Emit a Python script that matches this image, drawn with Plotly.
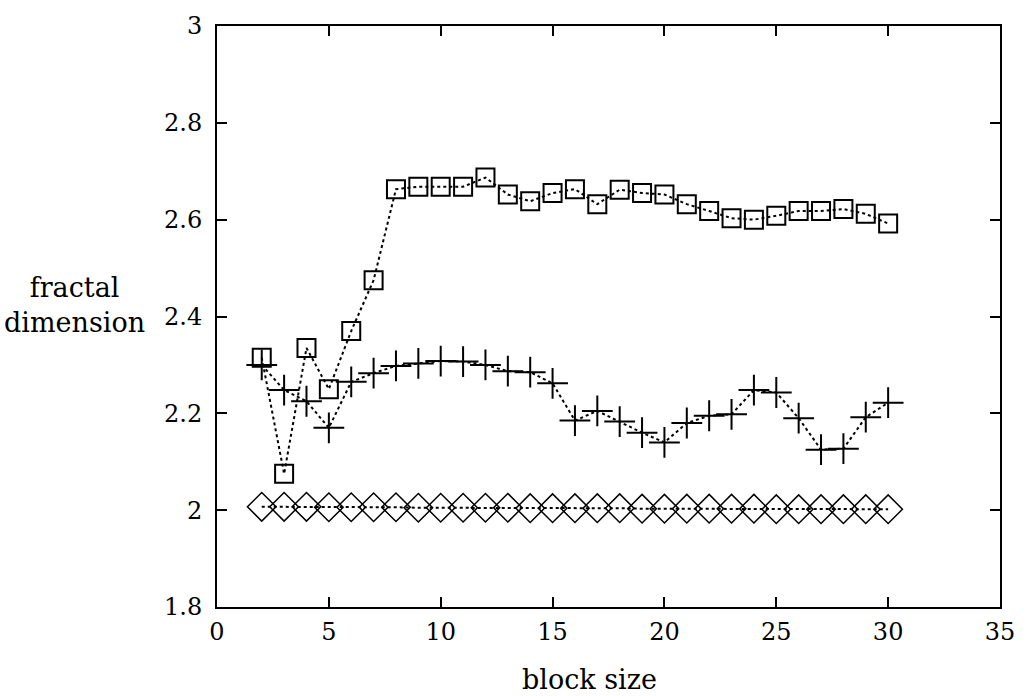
import plotly.graph_objects as go

block_size = list(range(2, 31))
squares = [2.315, 2.075, 2.335, 2.250, 2.370, 2.475, 2.663, 2.668, 2.668, 2.668,
           2.687, 2.652, 2.638, 2.655, 2.663, 2.632, 2.662, 2.655, 2.652, 2.632,
           2.618, 2.603, 2.600, 2.608, 2.618, 2.618, 2.622, 2.612, 2.592]
plus = [2.300, 2.248, 2.225, 2.170, 2.265, 2.283, 2.298, 2.303, 2.308, 2.307,
        2.300, 2.287, 2.285, 2.262, 2.185, 2.205, 2.183, 2.160, 2.140, 2.180,
        2.195, 2.198, 2.248, 2.243, 2.190, 2.125, 2.127, 2.192, 2.222]
diamonds = [2.007, 2.007, 2.007, 2.006, 2.006, 2.006, 2.006, 2.005, 2.005, 2.005,
            2.005, 2.005, 2.004, 2.004, 2.004, 2.004, 2.004, 2.003, 2.003, 2.003,
            2.003, 2.003, 2.003, 2.002, 2.002, 2.002, 2.002, 2.002, 2.002]
x_ticks = [0, 5, 10, 15, 20, 25, 30, 35]
y_ticks = [1.8, 2.0, 2.2, 2.4, 2.6, 2.8, 3.0]
y_tick_text = ["1.8", "2", "2.2", "2.4", "2.6", "2.8", "3"]

FONT = "DejaVu Serif, Liberation Serif, serif"
line = dict(color="black", width=2, dash="dot")

fig = go.Figure()
fig.add_trace(go.Scatter(x=block_size, y=diamonds, mode="lines+markers", line=line,
                         marker=dict(symbol="diamond-open", size=22, color="black",
                                     line=dict(width=1.5, color="black"))))
fig.add_trace(go.Scatter(x=block_size, y=plus, mode="lines+markers", line=line,
                         marker=dict(symbol="cross-thin-open", size=22, color="black",
                                     line=dict(width=2, color="black"))))
fig.add_trace(go.Scatter(x=block_size, y=squares, mode="lines+markers", line=line,
                         marker=dict(symbol="square-open", size=18, color="black",
                                     line=dict(width=2, color="black"))))

axis_common = dict(showgrid=False, zeroline=False, showline=True, linecolor="black",
                   linewidth=2, mirror="allticks", ticks="inside", ticklen=10,
                   tickwidth=1.5, tickcolor="black",
                   tickfont=dict(family=FONT, size=24, color="black"))
fig.update_xaxes(range=[0, 35], tickvals=x_ticks, ticktext=[str(v) for v in x_ticks],
                 ticklabelstandoff=2, **axis_common)
fig.update_yaxes(range=[1.8, 3.0], tickvals=y_ticks, ticktext=y_tick_text,
                 ticklabelstandoff=8, **axis_common)

fig.add_annotation(text="fractal<br>dimension", xref="paper", yref="paper",
                   x=-0.089, y=0.52, xanchor="right", yanchor="middle", showarrow=False,
                   align="center", font=dict(family=FONT, size=27, color="black"))
fig.add_annotation(text="block size", xref="paper", yref="paper", x=0.476, y=-0.125,
                   xanchor="center", yanchor="middle", showarrow=False,
                   font=dict(family=FONT, size=27, color="black"))

fig.update_layout(width=1027, height=696, showlegend=False,
                  plot_bgcolor="white", paper_bgcolor="white",
                  margin=dict(l=217, r=24, t=22, b=89))
fig.write_html("out.html")
